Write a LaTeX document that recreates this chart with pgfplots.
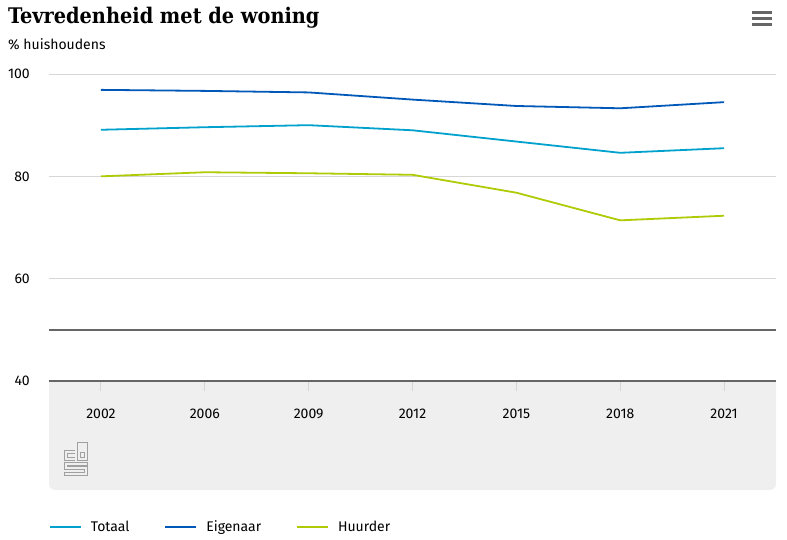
\documentclass[border=0pt]{standalone}
\usepackage{fontspec}
\setmainfont{Fira Sans}
\newfontfamily\titlefont{DejaVu Serif Condensed}
\usepackage{pgfplots}
\pgfplotsset{compat=1.18}

\definecolor{totaal}{HTML}{00A1CD}
\definecolor{eigenaar}{HTML}{0058B8}
\definecolor{huurder}{HTML}{AFCB05}
\definecolor{bandgray}{HTML}{EFEFEF}
\definecolor{gridgray}{HTML}{D6D6D6}
\definecolor{axisgray}{HTML}{666666}
\definecolor{logogray}{HTML}{A0A0A0}

\begin{document}
\begin{tikzpicture}[x=1pt,y=1pt]
\useasboundingbox (0,0) rectangle (787,539);

% titles
\node[anchor=base west, inner sep=0pt] at (8,515)
  {\titlefont\bfseries\fontsize{21.5}{25}\selectfont Tevredenheid met de woning};
\node[anchor=base west, inner sep=0pt] at (8,489)
  {\fontsize{14}{16}\selectfont \% huishoudens};

% menu icon
\foreach \yy in {526.5,520.5,514} {
  \draw[axisgray, line width=3pt] (752,\yy) -- (772,\yy);
}

% grey band under the axis
\fill[bandgray] (49,158) [rounded corners=6pt] -- (49,49) -- (776,49) [sharp corners] -- (776,158) -- cycle;

% cbs logo
\begin{scope}[logogray, line width=0.8pt]
  \draw (75,89) -- (64,89) -- (64,79) -- (75,79);
  \draw (75,86) -- (67,86) -- (67,82) -- (75,82);
  \draw (77,97) rectangle (87,79);
  \draw (80,87) rectangle (84,82);
  \draw (87,77) -- (64,77) -- (64,70) -- (84,70) -- (84,67) -- (64,67) -- (64,64) -- (87,64) -- (87,73) -- (67,73) -- (67,74) -- (87,74) -- cycle;
\end{scope}

\begin{axis}[
  at={(49pt,158pt)}, anchor=south west,
  scale only axis, width=727pt, height=307pt,
  xmin=-0.5, xmax=6.5, ymin=40, ymax=100,
  axis x line*=bottom, axis y line*=left,
  y axis line style={draw=none},
  x axis line style={draw=axisgray, line width=1.5pt, -},
  xtick={0,...,6},
  xticklabels={2002,2006,2009,2012,2015,2018,2021},
  ytick={40,60,80,100},
  tick align=outside,
  xtick style={draw=gridgray, line width=1pt},
  ytick style={draw=none},
  xmajorgrids=false, ymajorgrids=true,
  grid style={gridgray, line width=1pt},
  major tick length=10pt,
  extra y ticks={50},
  extra y tick labels={},
  extra y tick style={grid style={axisgray, line width=2.5pt}, major tick length=0pt},
  xticklabel style={font=\fontsize{14}{16}\selectfont, anchor=north, inner sep=0pt, yshift=-18pt},
  yticklabel style={font=\fontsize{14}{16}\selectfont, anchor=east, inner sep=0pt, xshift=-9pt},
  /pgf/number format/assume math mode=true,
  legend columns=3,
  legend style={at={(0,0)}, anchor=west, yshift=-146pt, draw=none, fill=none,
    inner sep=0pt, outer sep=0pt,
    nodes={inner sep=0pt, font=\fontsize{14}{16}\selectfont},
    /tikz/every odd column/.append style={column sep=9pt},
    /tikz/every even column/.append style={column sep=35pt}},
  legend image code/.code={\draw[#1] (0pt,0pt) -- (31pt,0pt);},
  every axis plot/.append style={line width=1.8pt, mark=none},
]
\addplot[totaal] coordinates {(0,89.1) (1,89.6) (2,90.0) (3,89.0) (4,86.8) (5,84.6) (6,85.5)};
\addlegendentry{Totaal}
\addplot[eigenaar] coordinates {(0,96.9) (1,96.7) (2,96.4) (3,95.0) (4,93.75) (5,93.3) (6,94.5)};
\addlegendentry{Eigenaar}
\addplot[huurder] coordinates {(0,80.0) (1,80.8) (2,80.6) (3,80.3) (4,76.8) (5,71.4) (6,72.3)};
\addlegendentry{Huurder}
\end{axis}
\end{tikzpicture}
\end{document}
